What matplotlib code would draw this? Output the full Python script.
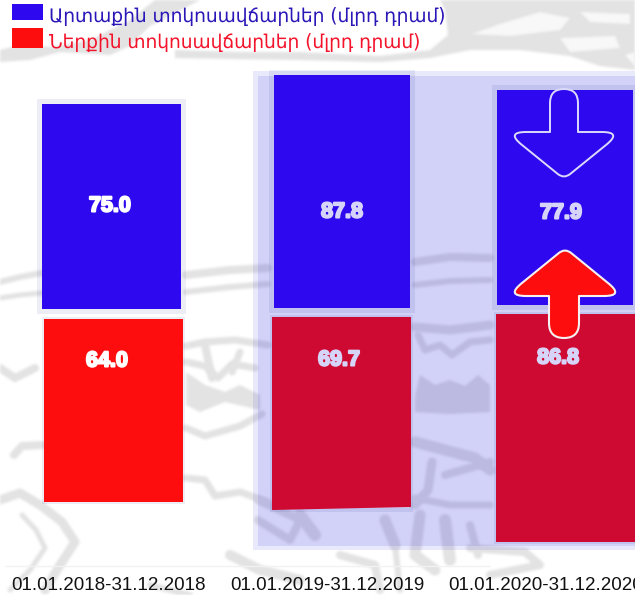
import matplotlib
matplotlib.use("Agg")
import matplotlib.pyplot as plt
import matplotlib.patheffects as pe
from matplotlib.colors import to_rgb
import numpy as np
from matplotlib.patches import Rectangle, PathPatch
from matplotlib.path import Path

periods = ["01.01.2018-31.12.2018", "01.01.2019-31.12.2019", "01.01.2020-31.12.2020"]
external = [75.0, 87.8, 77.9]
domestic = [64.0, 69.7, 86.8]
series_names = ["Արտաքին տոկոսավճարներ (մլրդ դրամ)", "Ներքին տոկոսավճարներ (մլրդ դրամ)"]

W, H = 635, 595
BLUE, RED, CRIMSON = "#2e09ef", "#fd0d0d", "#cf0a32"
GREY = "#e3e3e3"
HOLE = "#f8f8f8"

# pixel boxes (left, top, right, bottom) of the pictogram bars
ext_boxes = [(42, 104, 181, 309), (273.5, 74.5, 410, 308), (497, 90, 633, 305)]
dom_boxes = [(43.5, 318.5, 183, 502), (272, 317, 411, 510), (495.5, 314, 636, 542)]
dom_colors = [RED, CRIMSON, CRIMSON]
dom_taper = [1.0, 190 / 193, 1.0]
label_colors = ["white", "#d6d4f8", "#d6d4f8"]
ext_label_xy = [(110, 206), (342, 212), (561, 213)]
dom_label_xy = [(107, 361), (339, 360), (558, 358)]
tick_left = [11, 230, 448]

fig = plt.figure(figsize=(W / 100, H / 100), dpi=100, facecolor="white")


def pixel_axes(z):
    a = fig.add_axes([0, 0, 1, 1], zorder=z)
    a.set_xlim(0, W)
    a.set_ylim(H, 0)
    a.axis("off")
    return a


def soften(color):
    """Blur only the coverage, so that the watermark looks like a washed-out scan."""
    rgb = to_rgb(color)

    def _f(image, dpi):
        pad = 4
        im = np.pad(image, ((pad, pad), (pad, pad), (0, 0)), mode="constant")
        alpha = im[..., 3]
        for ax_ in (0, 1):
            for _ in range(2):
                alpha = (np.roll(alpha, -1, ax_) + alpha + np.roll(alpha, 1, ax_)) / 3
        im[..., 3] = alpha
        for k in range(3):
            im[..., k] = rgb[k]
        return im, -pad, -pad

    return _f


bg = pixel_axes(0)
top = pixel_axes(5)

# --- watermark (decorative background map) ---
blobs = [
    [(0, 50), (20, 45), (50, 47), (90, 40), (130, 20), (155, 0), (200, 0), (150, 26), (130, 46), (110, 55),
     (60, 52), (30, 60), (0, 62)],
    [(175, 50), (240, 52), (300, 52), (380, 56), (430, 50), (448, 35), (445, 10), (440, 0), (635, 0), (635, 70),
     (600, 66), (570, 56), (520, 50), (470, 50), (430, 58), (380, 62), (300, 60), (230, 59), (175, 58)],
    [(415, 396), (420, 375), (435, 385), (450, 380), (465, 386), (478, 375), (490, 385), (490, 412), (450, 414),
     (415, 412)],
    [(186, 372), (205, 385), (225, 392), (240, 385), (260, 395), (260, 410), (225, 402), (200, 412), (186, 405)],
]
for b in blobs:
    p, = bg.fill(*zip(*b), color=GREY, lw=0, zorder=1)
    p.set_agg_filter(soften(GREY))
holes = [
    [(472, 34), (500, 24), (540, 12), (570, 18), (560, 30), (510, 36)],
    [(580, 12), (630, 14), (630, 24), (590, 22)],
    [(560, 38), (615, 36), (620, 48), (570, 52)],
    [(625, 55), (635, 52), (635, 66)],
]
for b in holes:
    p, = bg.fill(*zip(*b), color=HOLE, lw=0, zorder=2)
    p.set_agg_filter(soften(HOLE))

strokes = [
    ([(0, 282), (20, 277), (42, 273)], 6),
    ([(0, 298), (20, 295), (42, 293)], 5),
    ([(186, 275), (230, 270), (268, 268)], 8),
    ([(186, 292), (230, 287), (268, 284)], 6),
    ([(415, 262), (450, 257), (490, 258)], 8),
    ([(415, 285), (450, 281), (490, 280)], 6),
    ([(186, 346), (205, 342), (235, 340), (268, 345)], 7),
    ([(205, 345), (212, 378)], 8),
    ([(186, 362), (205, 366), (218, 378), (232, 364), (255, 368)], 7),
    ([(240, 352), (232, 372)], 7),
    ([(186, 428), (205, 436), (240, 426), (262, 414)], 7),
    ([(186, 478), (205, 480), (215, 496), (240, 492), (268, 502)], 7),
    ([(0, 368), (15, 378), (35, 368)], 8),
    ([(14, 455), (22, 446), (42, 445)], 8),
    ([(0, 500), (20, 493), (40, 505), (62, 522), (75, 542), (60, 565), (45, 590)], 9),
    ([(22, 515), (36, 530), (45, 548), (30, 570), (10, 590)], 5),
    ([(415, 327), (450, 330), (490, 325)], 9),
    ([(418, 335), (425, 350), (440, 345), (452, 355), (470, 342), (490, 340)], 7),
    ([(415, 442), (445, 450), (475, 458), (490, 470)], 11),
    ([(432, 462), (428, 490), (415, 505)], 9),
    ([(415, 498), (450, 505), (490, 505)], 7),
    ([(445, 475), (490, 462)], 8),
    ([(258, 520), (290, 540), (300, 520), (258, 500)], 8),
    ([(300, 515), (315, 535)], 12),
    ([(385, 520), (395, 545)], 11),
    ([(420, 515), (415, 555), (435, 570)], 11),
    ([(445, 520), (450, 560)], 12),
    ([(470, 525), (478, 555)], 8),
    ([(230, 555), (260, 570), (300, 580)], 10),
    ([(340, 555), (375, 565), (380, 590)], 8),
    ([(395, 545), (400, 590)], 6),
    ([(470, 548), (525, 552), (540, 565), (490, 575)], 8),
    ([(150, 585), (190, 595)], 6),
]
for pts, lw in strokes:
    xs, ys = zip(*pts)
    l_, = bg.plot(xs, ys, color=GREY, lw=lw * 0.72, solid_capstyle="round", solid_joinstyle="round", zorder=1)
    l_.set_agg_filter(soften(GREY))

# faint axis line
bg.plot([6, 490], [566, 566], color="#f2f2f2", lw=1.0, zorder=3)

# highlighted panel (translucent blue over the watermark)
bg.add_patch(Rectangle((253, 71), W - 253, 479, fc=(0.08, 0.05, 0.87), alpha=0.09, ec="none", zorder=4))
bg.add_patch(Rectangle((258, 76), W - 258, 470, fc=(0.08, 0.05, 0.87), alpha=0.105, ec="none", zorder=5))


def bar_axes(box, value, color, inverted, halo, taper=1.0):
    l, t, r, b = box
    a = fig.add_axes([l / W, 1 - b / H, (r - l) / W, (b - t) / H], zorder=2)
    a.axis("off")
    a.set_xlim(-0.5, 0.5)
    a.set_ylim((value, 0) if inverted else (0, value))
    if taper == 1.0:
        a.bar(0, value, width=1.0, color=color, zorder=3)
    else:
        a.fill([-0.5, -0.5, 0.5, 0.5], [0, value, value * taper, 0], color=color, lw=0, zorder=3)
    a.add_patch(Rectangle((0, 0), 1, 1, transform=a.transAxes, fill=False, ec=(0, 0.055, 0.5, 0.075),
                          lw=halo * 2 * 0.72, clip_on=False, zorder=1, joinstyle="miter"))
    return a


for i in range(3):
    bar_axes(ext_boxes[i], external[i], BLUE, False, 5)
    bar_axes(dom_boxes[i], domestic[i], dom_colors[i], True, 2, dom_taper[i])


# --- arrows ---
def rounded(verts, radii):
    n = len(verts)
    v = np.array(verts, float)
    pts, codes = [], []
    for i in range(n):
        p, c, q = v[i - 1], v[i], v[(i + 1) % n]
        a = c + radii[i] * (p - c) / np.linalg.norm(p - c)
        b = c + radii[i] * (q - c) / np.linalg.norm(q - c)
        pts.append(a)
        codes.append(Path.MOVETO if i == 0 else Path.LINETO)
        pts += [c, b]
        codes += [Path.CURVE3, Path.CURVE3]
    pts.append(pts[0])
    codes.append(Path.CLOSEPOLY)
    return Path(pts, codes)


down = rounded([(550, 89), (578, 89), (578, 132), (622, 132), (564, 179), (506, 132), (550, 132)],
               [14, 14, 0.1, 20, 8, 20, 0.1])
top.add_patch(PathPatch(down, fc="none", ec="#dcdafa", lw=1.4, zorder=6))
up = rounded([(565, 248), (624, 296), (579, 296), (579, 338), (549, 338), (549, 296), (506, 296)],
             [8, 20, 0.1, 15, 15, 0.1, 20])
top.add_patch(PathPatch(up, fc=RED, ec="#f6f0f0", lw=1.5, zorder=6))

# --- value labels ---
for vals, xy in ((external, ext_label_xy), (domestic, dom_label_xy)):
    for v, (x, y), c in zip(vals, xy, label_colors):
        t = top.text(x, y, f"{v:.1f}", color=c, ha="center", va="center", fontsize=15.5,
                     family="Liberation Sans", fontweight="bold", zorder=7)
        t.set_path_effects([pe.withStroke(linewidth=1.5, foreground=c)])

# --- legend ---
top.add_patch(Rectangle((12, 4), 31, 16, fc=BLUE, ec="none"))
top.add_patch(Rectangle((12, 28), 31, 20, fc=RED, ec="none"))
top.text(49, 17, series_names[0], color="#2a17b8", fontsize=13.45, family="DejaVu Sans", va="center", ha="left")
top.text(49, 42, series_names[1], color="#f3142c", fontsize=13.45, family="DejaVu Sans", va="center", ha="left")

# --- period labels ---
for lab, x in zip(periods, tick_left):
    top.text(x, 585, lab, color="#111111", fontsize=13.5, family="Liberation Sans", ha="left", va="center")

fig.savefig("out.png", dpi=100)
